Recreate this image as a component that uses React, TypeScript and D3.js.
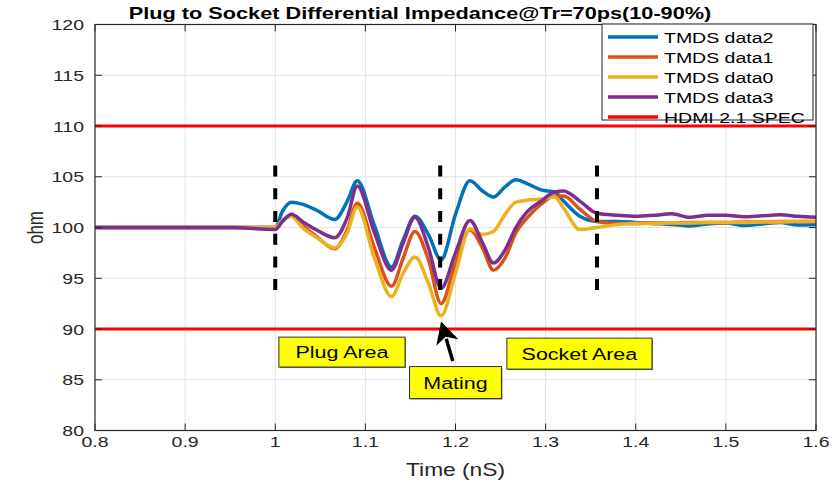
import React, { useRef, useEffect } from 'react';
import * as d3 from 'd3';

// sample times (nS) shared by the four TMDS traces
const timeNs = [
  0.8, 0.95, 1.0, 1.008, 1.018, 1.03, 1.046, 1.066, 1.08, 1.091,
  1.11, 1.129, 1.142, 1.155, 1.17, 1.184, 1.2, 1.216, 1.23, 1.242,
  1.255, 1.267, 1.28, 1.295, 1.31, 1.32, 1.338, 1.357, 1.38, 1.4,
  1.42, 1.44, 1.46, 1.48, 1.5, 1.52, 1.54, 1.56, 1.58, 1.6,
];

const data2 = [
  100, 100, 100, 101.6, 102.5, 102.3, 101.7, 100.8, 102.6, 104.6,
  100.2, 96.1, 98.8, 101.1, 99.3, 96.8, 101.3, 104.6, 103.6, 103.0,
  104.0, 104.7, 104.3, 103.7, 103.5, 102.6, 101.1, 100.6, 100.6, 100.5,
  100.4, 100.3, 100.15, 100.35, 100.45, 100.2, 100.35, 100.5, 100.25, 100.3,
];

const data1 = [
  100, 100, 100, 100.7, 101.1, 100.2, 99.1, 97.9, 99.8, 102.4,
  98.0, 94.2, 97.0, 99.6, 96.8, 92.5, 96.5, 99.75, 98.0, 95.8,
  97.0, 99.5, 101.0, 102.3, 103.1, 103.1, 101.8, 100.6, 100.4, 100.4,
  100.45, 100.45, 100.5, 100.5, 100.5, 100.55, 100.55, 100.6, 100.6, 100.6,
];

const data0 = [
  100, 100, 100, 100.7, 101.1, 100.0, 99.0, 98.0, 99.5, 102.05,
  97.0, 93.2, 95.5, 97.1, 94.5, 91.3, 95.5, 99.85, 99.3, 99.6,
  101.3, 102.5, 102.7, 102.8, 103.0, 101.9, 99.8, 100.0, 100.3, 100.4,
  100.4, 100.45, 100.45, 100.5, 100.5, 100.5, 100.55, 100.55, 100.6, 100.6,
];

const data3 = [
  100, 100, 99.8, 100.6, 101.3, 100.6, 99.75, 99.0, 101.0, 104.1,
  99.5, 95.8, 98.5, 101.0, 98.0, 94.0, 97.5, 100.7, 98.5, 96.5,
  97.8, 100.0, 101.6, 102.6, 103.5, 103.6, 102.6, 101.4, 101.2, 101.1,
  101.2, 101.35, 101.0, 101.2, 101.2, 101.05, 101.15, 101.25, 101.1, 101.0,
];

const seriesNames = ['TMDS data2', 'TMDS data1', 'TMDS data0', 'TMDS data3'];
const seriesValues = [data2, data1, data0, data3];
const seriesColors = ['#0072BD', '#D95319', '#EDB120', '#7E2F8E'];

const specName = 'HDMI 2.1 SPEC';
const specLimits = [110, 90];

const markerTimes = [1.0, 1.183, 1.357];
const markerSpan = [93.85, 106.1];

const xTicks = [0.8, 0.9, 1.0, 1.1, 1.2, 1.3, 1.4, 1.5, 1.6];
const yTicks = [80, 85, 90, 95, 100, 105, 110, 115, 120];

const areaLabels = ['Plug Area', 'Mating', 'Socket Area'];
// label boxes in data units: [t0, t1, vTop, vBottom]
const areaBoxes = [
  [1.004, 1.144, 89.2, 86.25],
  [1.149, 1.251, 86.3, 83.15],
  [1.257, 1.418, 89.1, 86.05],
];
// mating arrow: tail -> tip, data units
const arrowTail = [1.197, 86.85];
const arrowTip = [1.184, 90.75];

const FONT = 'Liberation Sans, Arial, Helvetica, sans-serif';
const SX = 1.3; // the figure is a bit wider than tall, text is stretched with it

// text that gets the same horizontal stretch as the original picture
const addText = (parent, x, y, str, size, anchor = 'start', opts = {}) => {
  const holder = parent.append('g')
    .attr('transform', `translate(${x},${y}) scale(${SX},1)${opts.rotate ? ` rotate(${opts.rotate})` : ''}`);
  holder.append('text')
    .attr('text-anchor', anchor)
    .style('font-family', FONT)
    .style('font-size', `${size}px`)
    .style('font-weight', opts.bold ? 'bold' : 'normal')
    .attr('fill', opts.fill || '#000')
    .text(str);
  return holder;
};

const App = () => {
  const svgRef = useRef(null);

  useEffect(() => {
    document.body.style.margin = '0';
    const width = 835;
    const height = 484;
    const margin = { top: 24.5, right: 19, bottom: 53.5, left: 95 };
    const innerW = width - margin.left - margin.right;
    const innerH = height - margin.top - margin.bottom;

    const svg = d3.select(svgRef.current)
      .attr('width', width)
      .attr('height', height)
      .style('display', 'block');
    svg.selectAll('*').remove();

    svg.append('rect').attr('width', width).attr('height', height).attr('fill', '#ffffff');

    const g = svg.append('g').attr('transform', `translate(${margin.left},${margin.top})`);

    const x = d3.scaleLinear().domain([0.8, 1.6]).range([0, innerW]);
    const y = d3.scaleLinear().domain([80, 120]).range([innerH, 0]);

    // --- grid ---
    g.append('g').selectAll('line')
      .data(xTicks.slice(1, -1))
      .enter().append('line')
      .attr('x1', d => x(d)).attr('x2', d => x(d))
      .attr('y1', 0).attr('y2', innerH)
      .attr('stroke', '#e3e3e3').attr('stroke-width', 1);
    g.append('g').selectAll('line')
      .data(yTicks.slice(1, -1))
      .enter().append('line')
      .attr('x1', 0).attr('x2', innerW)
      .attr('y1', d => y(d)).attr('y2', d => y(d))
      .attr('stroke', '#e3e3e3').attr('stroke-width', 1);

    // --- spec limits ---
    g.append('g').selectAll('line')
      .data(specLimits)
      .enter().append('line')
      .attr('x1', 0).attr('x2', innerW)
      .attr('y1', d => y(d)).attr('y2', d => y(d))
      .attr('stroke', '#ff0000').attr('stroke-width', 3);

    // --- traces ---
    const line = d3.line()
      .x((d, i) => x(timeNs[i]))
      .y(d => y(d))
      .curve(d3.curveMonotoneX);

    seriesValues.forEach((vals, k) => {
      g.append('path')
        .datum(vals)
        .attr('d', line)
        .attr('fill', 'none')
        .attr('stroke', seriesColors[k])
        .attr('stroke-width', 3.5)
        .attr('stroke-linejoin', 'round');
    });

    // --- dashed region markers ---
    g.append('g').selectAll('line')
      .data(markerTimes)
      .enter().append('line')
      .attr('x1', d => x(d)).attr('x2', d => x(d))
      .attr('y1', y(markerSpan[1])).attr('y2', y(markerSpan[0]))
      .attr('stroke', '#000').attr('stroke-width', 4)
      .attr('stroke-dasharray', '11,11.7');

    // --- axes box + ticks ---
    const axisColor = '#262626';
    g.append('rect')
      .attr('x', 0).attr('y', 0).attr('width', innerW).attr('height', innerH)
      .attr('fill', 'none').attr('stroke', axisColor).attr('stroke-width', 1.2);

    xTicks.forEach(t => {
      g.append('line').attr('x1', x(t)).attr('x2', x(t)).attr('y1', innerH).attr('y2', innerH - 7)
        .attr('stroke', axisColor);
      g.append('line').attr('x1', x(t)).attr('x2', x(t)).attr('y1', 0).attr('y2', 7)
        .attr('stroke', axisColor);
      addText(g, x(t), innerH + 16, d3.format('~g')(t), 15, 'middle', { fill: axisColor });
    });
    yTicks.forEach(v => {
      g.append('line').attr('x1', 0).attr('x2', 7).attr('y1', y(v)).attr('y2', y(v))
        .attr('stroke', axisColor);
      g.append('line').attr('x1', innerW).attr('x2', innerW - 7).attr('y1', y(v)).attr('y2', y(v))
        .attr('stroke', axisColor);
      addText(g, -11, y(v) + 5.5, String(v), 15, 'end', { fill: axisColor });
    });

    // axis labels
    addText(g, innerW / 2, innerH + 45, 'Time (nS)', 17.5, 'middle', { fill: axisColor });
    addText(g, -52, innerH / 2, 'ohm', 17, 'middle', { fill: axisColor, rotate: -90 });

    // title
    addText(svg, 420, 19, 'Plug to Socket Differential Impedance@Tr=70ps(10-90%)', 16.7, 'middle', { bold: true });

    // --- area labels ---
    areaBoxes.forEach((b, i) => {
      const bx = x(b[0]);
      const by = y(b[2]);
      const bw = x(b[1]) - x(b[0]);
      const bh = y(b[3]) - y(b[2]);
      g.append('rect')
        .attr('x', bx + 1).attr('y', by + 1).attr('width', bw).attr('height', bh)
        .attr('fill', '#7a7a7a');
      g.append('rect')
        .attr('x', bx).attr('y', by).attr('width', bw).attr('height', bh)
        .attr('fill', '#ffff00').attr('stroke', '#333').attr('stroke-width', 1);
      addText(g, bx + bw / 2, by + bh / 2 + 6, areaLabels[i], 16.5, 'middle');
    });

    // --- mating arrow ---
    const tx = x(arrowTip[0]), ty = y(arrowTip[1]);
    const sx = x(arrowTail[0]), sy = y(arrowTail[1]);
    const ang = Math.atan2(ty - sy, tx - sx);
    const headLen = 22, headHalf = 11.5;
    const bxp = tx - headLen * Math.cos(ang), byp = ty - headLen * Math.sin(ang);
    g.append('line')
      .attr('x1', sx).attr('y1', sy).attr('x2', bxp + Math.cos(ang) * 4).attr('y2', byp + Math.sin(ang) * 4)
      .attr('stroke', '#000').attr('stroke-width', 3.5);
    const nx = -Math.sin(ang), ny = Math.cos(ang);
    g.append('path')
      .attr('d', `M${tx},${ty} L${bxp + nx * headHalf},${byp + ny * headHalf} L${bxp + Math.cos(ang) * 6},${byp + Math.sin(ang) * 6} L${bxp - nx * headHalf},${byp - ny * headHalf} Z`)
      .attr('fill', '#000');

    // --- legend ---
    const lg = svg.append('g').attr('transform', 'translate(602,24)');
    lg.append('rect')
      .attr('x', 0).attr('y', 0).attr('width', 211).attr('height', 96)
      .attr('fill', '#fff').attr('stroke', axisColor).attr('stroke-width', 1);
    const legendNames = [...seriesNames, specName];
    const legendColors = [...seriesColors, '#ff0000'];
    legendNames.forEach((name, i) => {
      const ly = 13 + i * 20;
      lg.append('line')
        .attr('x1', 6).attr('x2', 56).attr('y1', ly).attr('y2', ly)
        .attr('stroke', legendColors[i]).attr('stroke-width', 3.5);
      addText(lg, 62, ly + 5.5, name, 15);
    });
  }, []);

  return (
    <div>
      <svg ref={svgRef}></svg>
    </div>
  );
};

export default App;
